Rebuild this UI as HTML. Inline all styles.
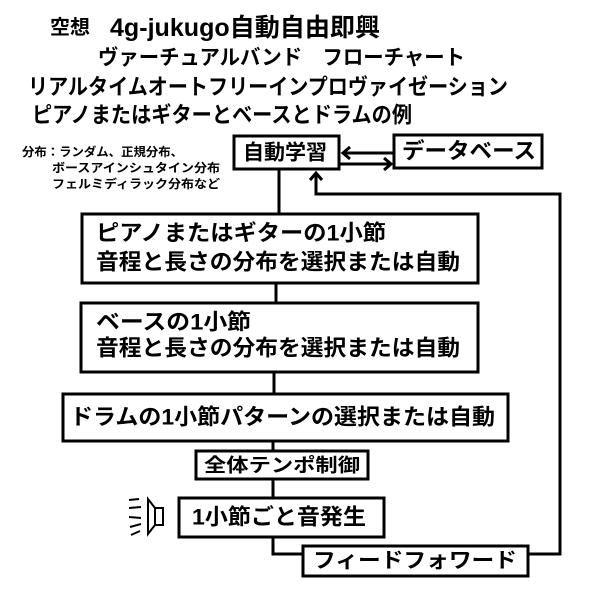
<!DOCTYPE html>
<html><head><meta charset="utf-8"><style>
html,body{margin:0;padding:0;background:#fff;width:600px;height:600px;overflow:hidden}
svg{display:block}
text{font-family:"Liberation Sans","Noto Sans CJK JP",sans-serif;fill:#000;dominant-baseline:central}
.b{font-weight:bold}
</style></head><body>
<svg width="600" height="600" viewBox="0 0 600 600" xmlns="http://www.w3.org/2000/svg">
<g>
<text x="50" y="28" class="b" font-size="20">空想</text>
<text x="110" y="28" class="b" font-size="25" textLength="270" lengthAdjust="spacingAndGlyphs">4g-jukugo自動自由即興</text>
<text x="98" y="58" font-size="21" class="b" textLength="367" lengthAdjust="spacingAndGlyphs">ヴァーチュアルバンド　フローチャート</text>
<text x="28" y="87" font-size="22" class="b" textLength="480" lengthAdjust="spacingAndGlyphs">リアルタイムオートフリーインプロヴァイゼーション</text>
<text x="32" y="115" font-size="22" class="b" textLength="380" lengthAdjust="spacingAndGlyphs">ピアノまたはギターとベースとドラムの例</text>
<text x="22" y="152" font-size="12" class="b" textLength="161" lengthAdjust="spacingAndGlyphs">分布：ランダム、正規分布、</text>
<text x="52" y="168" font-size="12" class="b" textLength="168" lengthAdjust="spacingAndGlyphs">ボースアインシュタイン分布</text>
<text x="52" y="184" font-size="12" class="b" textLength="168" lengthAdjust="spacingAndGlyphs">フェルミディラック分布など</text>
</g>
<g fill="none" stroke="#000" stroke-width="3">
<rect x="234" y="136" width="105" height="33" fill="#fff"/>
<rect x="394" y="135" width="148" height="33" fill="#fff"/>
<line x1="343" y1="153" x2="394" y2="153"/>
<polyline points="350,147 343,153 350,159"/>
<line x1="339" y1="164" x2="390" y2="164"/>
<polyline points="384,158 391,164 384,170"/>
<polyline points="316,173 316,194 560,194 560,554 528,554"/>
<polyline points="310,180 316,173 322,180"/>
<line x1="279" y1="169" x2="279" y2="214"/>
<rect x="82" y="214" width="396" height="69" fill="#fff"/>
<line x1="276" y1="283" x2="276" y2="303"/>
<rect x="81" y="303" width="397" height="69" fill="#fff"/>
<line x1="274" y1="372" x2="274" y2="394"/>
<rect x="63" y="394" width="445" height="47" fill="#fff"/>
<line x1="273" y1="441" x2="273" y2="451"/>
<rect x="196" y="451" width="172" height="28" fill="#fff"/>
<line x1="273" y1="479" x2="273" y2="498"/>
<rect x="179" y="498" width="205" height="39" fill="#fff"/>
<polyline points="273,537 273,554 303,554"/>
<rect x="303" y="546" width="225" height="30" fill="#fff"/>
</g>
<g fill="none" stroke="#000" stroke-width="2">
<rect x="155" y="508" width="8" height="17"/>
<polyline points="155,508 148,499 148,534 155,525"/>
<line x1="129" y1="500" x2="139" y2="499"/>
<line x1="129" y1="508" x2="141" y2="507"/>
<line x1="129" y1="517" x2="141" y2="518"/>
<line x1="130" y1="527" x2="141" y2="524"/>
<line x1="131" y1="535" x2="140" y2="531"/>
</g>
<text x="243" y="153" class="b" font-size="21">自動学習</text>
<text x="402" y="151" font-size="22" class="b" textLength="134" lengthAdjust="spacingAndGlyphs">データベース</text>
<text x="96" y="233" class="b" font-size="22" textLength="290" lengthAdjust="spacingAndGlyphs">ピアノまたはギターの1小節</text>
<text x="96" y="262" class="b" font-size="22" textLength="364" lengthAdjust="spacingAndGlyphs">音程と長さの分布を選択または自動</text>
<text x="96" y="322" class="b" font-size="22" textLength="155" lengthAdjust="spacingAndGlyphs">ベースの1小節</text>
<text x="96" y="348" class="b" font-size="22" textLength="364" lengthAdjust="spacingAndGlyphs">音程と長さの分布を選択または自動</text>
<text x="70" y="417" class="b" font-size="22" textLength="425" lengthAdjust="spacingAndGlyphs">ドラムの1小節パターンの選択または自動</text>
<text x="204" y="466" class="b" font-size="19" textLength="156" lengthAdjust="spacingAndGlyphs">全体テンポ制御</text>
<text x="192" y="517" class="b" font-size="22" textLength="174" lengthAdjust="spacingAndGlyphs">1小節ごと音発生</text>
<text x="313" y="561" font-size="21" class="b" textLength="204" lengthAdjust="spacingAndGlyphs">フィードフォワード</text>
</svg>
</body></html>
